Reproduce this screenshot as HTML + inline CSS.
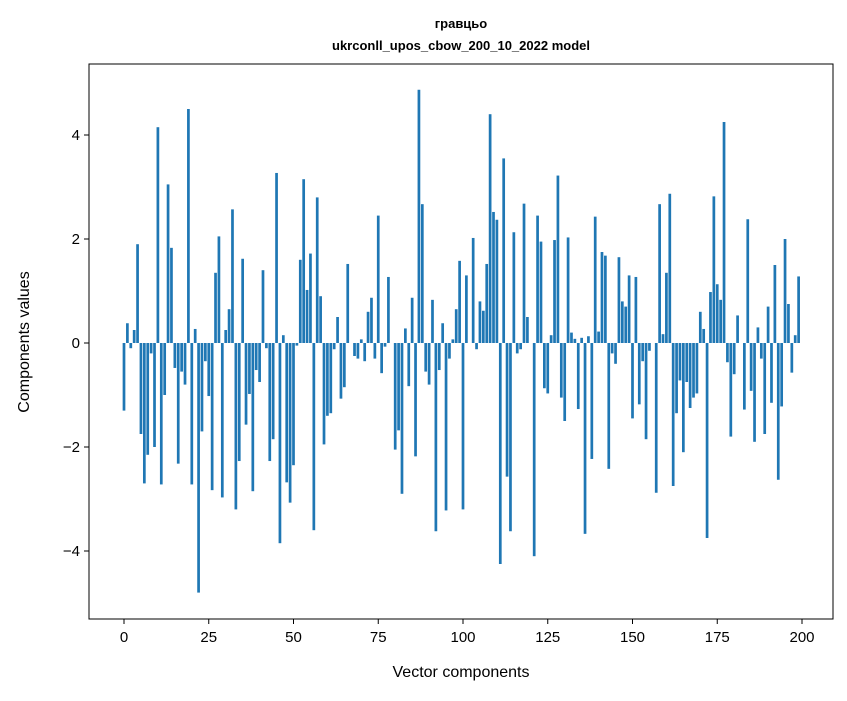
<!DOCTYPE html>
<html><head><meta charset="utf-8"><style>
body{margin:0;background:#fff;font-family:"Liberation Sans","DejaVu Sans",sans-serif;}
</style></head><body>
<svg id="chart" width="847" height="696" xmlns="http://www.w3.org/2000/svg" font-family="Liberation Sans, DejaVu Sans, sans-serif">
<rect width="847" height="696" fill="#fff"/>
<text x="461" y="28" text-anchor="middle" font-size="13" font-weight="bold">гравцьо</text>
<text x="461" y="50" text-anchor="middle" font-size="13" font-weight="bold">ukrconll_upos_cbow_200_10_2022 model</text>
<g id="bars"></g>
<rect x="89" y="64" width="744" height="555" fill="none" stroke="#000" stroke-width="1"/>
<g id="axes"></g>
<text x="461" y="677" text-anchor="middle" font-size="16">Vector components</text>
<text transform="translate(29,342) rotate(-90)" text-anchor="middle" font-size="16">Components values</text>
</svg>
<script>
const values = [-1.3,0.38,-0.1,0.25,1.9,-1.75,-2.7,-2.15,-0.2,-2.0,
4.15,-2.72,-1.0,3.05,1.83,-0.48,-2.32,-0.55,-0.8,4.5,
-2.72,0.27,-4.8,-1.7,-0.35,-1.02,-2.83,1.35,2.05,-2.97,
0.25,0.65,2.57,-3.2,-2.27,1.62,-1.57,-0.98,-2.85,-0.52,
-0.75,1.4,-0.1,-2.27,-1.85,3.27,-3.85,0.15,-2.68,-3.07,
-2.35,-0.05,1.6,3.15,1.02,1.72,-3.6,2.8,0.9,-1.95,
-1.4,-1.35,-0.12,0.5,-1.07,-0.85,1.52,0.0,-0.25,-0.3,
0.07,-0.35,0.6,0.87,-0.3,2.45,-0.58,-0.07,1.27,0.0,
-2.05,-1.68,-2.9,0.28,-0.83,0.87,-2.18,4.87,2.67,-0.55,
-0.8,0.83,-3.62,-0.52,0.38,-3.22,-0.3,0.07,0.65,1.58,
-3.2,1.3,0.0,2.02,-0.12,0.8,0.62,1.52,4.4,2.52,
2.37,-4.25,3.55,-2.57,-3.62,2.13,-0.2,-0.12,2.68,0.5,
0.0,-4.1,2.45,1.95,-0.87,-0.97,0.15,1.98,3.22,-1.05,
-1.5,2.03,0.2,0.08,-1.27,0.1,-3.67,0.13,-2.23,2.43,
0.22,1.75,1.68,-2.42,-0.2,-0.4,1.65,0.8,0.7,1.3,
-1.45,1.27,-1.18,-0.35,-1.85,-0.15,0.0,-2.88,2.67,0.17,1.35,
2.87,-2.75,-1.35,-0.72,-2.1,-0.75,-1.25,-1.05,-0.97,0.6,
0.27,-3.75,0.98,2.82,1.13,0.83,4.25,-0.37,-1.8,-0.6,
0.53,0.0,-1.28,2.38,-0.92,-1.9,0.3,-0.3,-1.75,0.7,-1.15,
1.5,-2.63,-1.22,2.0,0.75,-0.57,0.15,1.28];
const xTicks = [0,25,50,75,100,125,150,175,200];
const yTicks = [-4,-2,0,2,4];
const NS="http://www.w3.org/2000/svg";
const xs = v => 124 + (v/200)*678;
const ys = v => 343 - v*52;
const bars=document.getElementById('bars');
values.forEach((v,i)=>{
  const r=document.createElementNS(NS,'rect');
  
  
  const y0=ys(0), y1=ys(v);
  r.setAttribute('x',xs(i-0.4));
  r.setAttribute('width',xs(0.8)-xs(0));
  r.setAttribute('y',Math.min(y0,y1));
  r.setAttribute('height',Math.abs(y1-y0));
  r.setAttribute('fill','#1f77b4');
  bars.appendChild(r);
});
const axes=document.getElementById('axes');
xTicks.forEach(t=>{
  const l=document.createElementNS(NS,'line');
  
  
  l.setAttribute('x1',xs(t));l.setAttribute('x2',xs(t));
  l.setAttribute('y1',619);l.setAttribute('y2',624);
  l.setAttribute('stroke','#000');
  axes.appendChild(l);
  const tx=document.createElementNS(NS,'text');
  
  
  tx.setAttribute('x',xs(t));tx.setAttribute('y',642);
  tx.setAttribute('text-anchor','middle');tx.setAttribute('font-size','15');
  tx.textContent=t;
  axes.appendChild(tx);
});
yTicks.forEach(t=>{
  const l=document.createElementNS(NS,'line');
  
  
  l.setAttribute('x1',84);l.setAttribute('x2',89);
  l.setAttribute('y1',ys(t));l.setAttribute('y2',ys(t));
  l.setAttribute('stroke','#000');
  axes.appendChild(l);
  const tx=document.createElementNS(NS,'text');
  
  
  tx.setAttribute('x',80);tx.setAttribute('y',ys(t)+5);
  tx.setAttribute('text-anchor','end');tx.setAttribute('font-size','15');
  tx.textContent=(t<0?'\u2212'+Math.abs(t):t);
  axes.appendChild(tx);
});
</script>
</body></html>
